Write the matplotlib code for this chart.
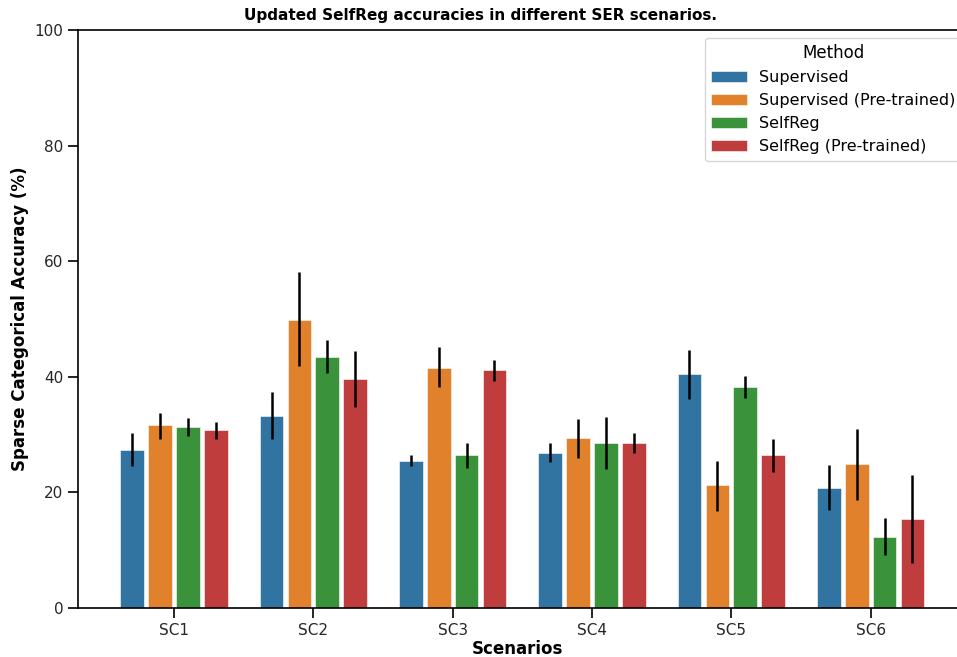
import numpy as np
import matplotlib
matplotlib.use("Agg")
import matplotlib.pyplot as plt

scenarios = ["SC1", "SC2", "SC3", "SC4", "SC5", "SC6"]
methods = ["Supervised", "Supervised (Pre-trained)", "SelfReg", "SelfReg (Pre-trained)"]
colors = ["#3274A1", "#E1812C", "#3A923A", "#C03D3E"]

# mean accuracy per method (rows) and scenario (cols)
means = [
    [27.4, 33.3, 25.5, 26.9, 40.5, 20.8],
    [31.6, 49.9, 41.6, 29.4, 21.2, 24.9],
    [31.3, 43.4, 26.4, 28.5, 38.3, 12.3],
    [30.8, 39.6, 41.1, 28.6, 26.4, 15.4],
]
# error bar low / high
err_lo = [
    [24.6, 29.2, 24.6, 25.2, 36.2, 16.9],
    [29.3, 41.8, 38.2, 26.0, 16.8, 18.6],
    [29.8, 40.6, 24.3, 24.0, 36.3, 9.1],
    [29.3, 34.7, 39.3, 26.9, 23.5, 7.8],
]
err_hi = [
    [30.3, 37.3, 26.4, 28.5, 44.6, 24.7],
    [33.8, 58.1, 45.1, 32.7, 25.5, 30.9],
    [32.8, 46.3, 28.5, 33.0, 40.2, 15.6],
    [32.2, 44.4, 42.9, 30.2, 29.2, 23.0],
]

fig = plt.figure(figsize=(9.57, 6.57), dpi=100)
ax = fig.add_axes([78 / 957, 1 - 608 / 657, 1 - 78 / 957, (608 - 30) / 657])

x = np.arange(len(scenarios))
step = 0.2
width = 0.17
for i, m in enumerate(methods):
    pos = x + (i - 1.5) * step
    ax.bar(pos, means[i], width=width, color=colors[i], label=m,
           edgecolor="white", linewidth=0.4, zorder=2)
    ax.vlines(pos, err_lo[i], err_hi[i], color="black", linewidth=1.8, zorder=3)

ax.set_xlim(-0.689, 5.62)
ax.set_ylim(0, 100)
ax.set_xticks(x)
ax.set_xticklabels(scenarios)
ax.set_yticks([0, 20, 40, 60, 80, 100])
ax.tick_params(axis="both", labelsize=11, length=7, width=1.2, labelcolor=".15")
ax.spines["right"].set_visible(False)
for s in ["left", "top", "bottom"]:
    ax.spines[s].set_linewidth(1.2)

ax.set_xlabel("Scenarios", fontsize=12, fontweight="bold", labelpad=2)
ax.set_ylabel("Sparse Categorical Accuracy (%)", fontsize=12, fontweight="bold")
ax.set_title("Updated SelfReg accuracies in different SER scenarios.",
             fontsize=11, fontweight="bold", pad=7, x=0.458)

leg = ax.legend(title="Method", fontsize=11.5, title_fontsize=12,
                loc="upper left", bbox_to_anchor=(705 / 957, 1 - 38 / 657),
                bbox_transform=fig.transFigure, borderaxespad=0, frameon=True,
                handlelength=2.2)

fig.savefig("out.png", dpi=100)
